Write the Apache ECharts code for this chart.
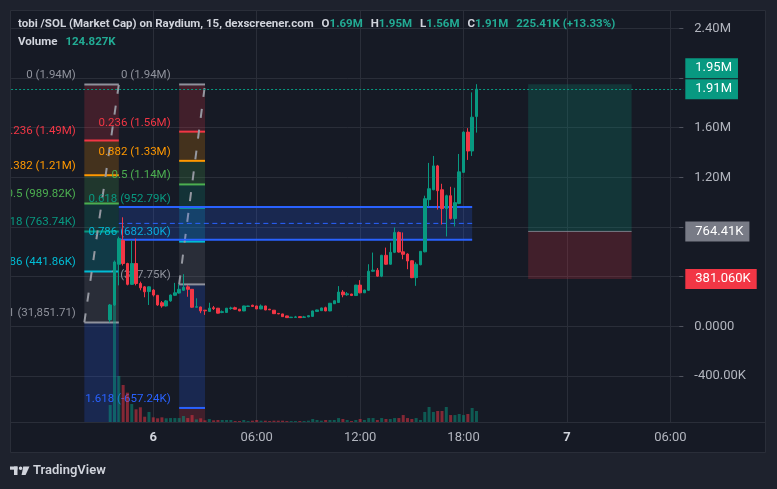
<!DOCTYPE html>
<html><head><meta charset="utf-8">
<script src="https://cdn.jsdelivr.net/npm/echarts@6/dist/echarts.min.js"></script>
<style>html,body{margin:0;padding:0;background:#1e222d;}#c{width:777px;height:489px;}</style>
</head><body><div id="c"></div>
<script>
// ---------------- data (market cap values in K) ----------------
const xStart = -33, xEnd = 123;              // visible 15-min slots, 0 = day 6 00:00
const xTickIndex = [0, 24, 48, 72, 96, 120];
const xTickLabels = ['6', '06:00', '12:00', '18:00', '7', '06:00'];
const xTickIsDay = [true, false, false, false, true, false];
const yLabelValues = [2400, 1600, 1200, 0, -400];
const firstBar = -10;
// [open, close, low, high]
const candles = [
 [52,172,32,180],[172,518,165,530],[500,706,330,722],[692,506,490,878],[506,338,330,512],
 [338,506,335,690],[506,345,330,706],[345,310,290,360],[318,278,234,325],[280,318,172,322],
 [292,252,240,300],[250,172,165,252],[190,164,150,204],[164,205,160,212],[205,252,198,256],
 [250,270,244,350],[268,298,264,340],[290,314,286,420],[318,298,238,332],[298,154,150,300],
 [154,158,152,226],[156,124,106,158],[130,125,92,132],[120,146,118,190],[150,142,132,164],
 [146,106,104,148],[112,118,106,128],[112,146,110,148],[144,148,134,158],[150,138,136,158],
 [138,124,122,140],[124,164,122,166],[160,164,158,166],[170,160,158,174],[164,140,138,166],
 [140,164,138,176],[164,132,130,166],[138,133,131,140],[130,102,100,131],[104,100,98,106],
 [100,78,76,101],[84,70,68,86],[70,74,68,76],[72,76,70,84],[78,70,68,80],
 [72,76,70,84],[76,86,74,88],[80,124,78,126],[120,132,118,134],[126,148,124,150],
 [150,124,122,158],[124,186,122,188],[182,206,180,208],[192,276,190,324],[276,254,234,292],
 [254,262,246,276],[260,248,244,262],[248,332,244,334],[332,270,266,372],[270,292,268,296],
 [290,444,286,500],[444,452,440,594],[452,404,400,470],[404,572,396,576],[572,500,496,634],
 [500,596,496,674],[596,756,590,796],[756,598,594,764],[600,580,540,756],[582,526,460,588],
 [528,392,388,532],[392,500,326,516],[496,604,492,606],[600,1028,596,1052],[1020,1108,964,1316],
 [1100,1292,1096,1372],[1292,1092,940,1300],[1100,948,820,1148],[948,1052,724,1060],[1052,868,860,1124],
 [868,996,804,1116],[990,1244,984,1388],[1240,1564,1236,1570],[1564,1412,1340,1596],[1412,1684,1372,1884],
 [1690,1910,1560,1950]
];
const volumes = [
 193,1420,522,420,333,204,144,167,60,114,
 53,42,53,42,45,45,45,68,45,79,
 30,42,19,34,19,23,23,23,23,11,
 11,23,11,15,23,15,15,11,15,15,
 15,11,11,11,11,11,15,34,23,15,
 23,23,23,45,34,23,11,23,34,23,
 45,45,23,45,34,34,45,45,79,45,
 34,45,23,114,170,114,125,125,170,79,
 79,91,79,91,159,125
];
const fibLevels = [0, 0.236, 0.382, 0.5, 0.618, 0.786, 1, 1.618, 2.618];
const fib1 = {x0: -16.05, x1: -7.9, p0: 1947.79, p1: 31.85171};
const fib1Labels = ['0 (1.94M)','0.236 (1.49M)','0.382 (1.21M)','0.5 (989.82K)','0.618 (763.74K)','0.786 (441.86K)','1 (31,851.71)','1.618 (-1.15M)','2.618 (-3.07M)'];
const fib2 = {x0: 5.9, x1: 12.15, p0: 1947.79, p1: 337.75};
const fib2Labels = ['0 (1.94M)','0.236 (1.56M)','0.382 (1.33M)','0.5 (1.14M)','0.618 (952.79K)','0.786 (682.30K)','1 (337.75K)','1.618 (-657.24K)','2.618 (-2.27M)'];
const rangeBox = {x0: -8.1, x1: 74.1, top: 960, bottom: 698};
const longPos = {x0: 87, x1: 111.1, target: 1950, entry: 764.41, stop: 381.06};
const priceTags = [
 {value: 1950, text: '1.95M', kind: 'up'},
 {value: 1910, text: '1.91M', kind: 'last'},
 {value: 764.41, text: '764.41K', kind: 'entry'},
 {value: 381.06, text: '381.060K', kind: 'down'}
];

// ---------------- build ----------------
const UP = '#089981', DOWN = '#f23645', GRID = '#2a2e39', TXT = '#b2b5be';
const FONT = 'Roboto, "Noto Sans", sans-serif';
const fibColors = ['#8f929c','#f23645','#ff9800','#4caf50','#089981','#00bcd4','#8f929c','#2962ff','#f23645'];
function rgba(hex, a){const n=parseInt(hex.slice(1),16);return `rgba(${n>>16},${(n>>8)&255},${n&255},${a})`;}

const cats = [];
for (let i = xStart; i <= xEnd; i++) cats.push(String(i));
const candleData = candles.map((c, j) => [firstBar + j - xStart, c[0], c[1], c[2], c[3]]);
const volData = volumes.map((v, j) => ({
  value: [firstBar + j - xStart, v],
  itemStyle: {color: candles[j][1] >= candles[j][0] ? rgba(UP, 0.5) : rgba(DOWN, 0.5)}
}));
const isTick = idx => xTickIndex.indexOf(idx + xStart) >= 0;

function fibSeries(f, labels){
  return {
    type: 'custom', xAxisIndex: 0, yAxisIndex: 0, z: 1, clip: true, silent: true,
    data: [[0, 0]],
    renderItem: (params, api) => {
      const xL = api.coord([f.x0 - xStart, 0])[0];
      const xR = api.coord([f.x1 - xStart, 0])[0];
      const yOf = lv => api.coord([0, f.p0 - lv * (f.p0 - f.p1)])[1];
      const ch = [];
      for (let k = 1; k < fibLevels.length; k++) {
        const ya = yOf(fibLevels[k-1]), yb = yOf(fibLevels[k]);
        ch.push({type:'rect', shape:{x:xL, y:Math.min(ya,yb), width:xR-xL, height:Math.abs(yb-ya)},
                 style:{fill: rgba(fibColors[k] === '#8f929c' ? '#787b86' : fibColors[k], 0.2)}});
      }
      for (let k = 0; k < fibLevels.length; k++) {
        const y = yOf(fibLevels[k]);
        ch.push({type:'line', shape:{x1:xL, y1:y, x2:xR, y2:y}, style:{stroke: fibColors[k], lineWidth: 2}});
        ch.push({type:'text', x: xL - 8.5, y: y - 3,
                 style:{text: labels[k], fill: fibColors[k], font: '11.5px ' + FONT, align:'right', verticalAlign:'bottom'}});
      }
      ch.push({type:'line', shape:{x1:xL, y1:yOf(1), x2:xR, y2:yOf(0)},
               style:{stroke:'#9598a1', lineWidth:2, lineDash:[9,12]}});
      return {type:'group', children: ch};
    }
  };
}

const rangeSeries = {
  type: 'custom', xAxisIndex: 0, yAxisIndex: 0, z: 1, clip: true, silent: true,
  data: [[0, 0]],
  renderItem: (params, api) => {
    const xL = api.coord([rangeBox.x0 - xStart, 0])[0];
    const xR = api.coord([rangeBox.x1 - xStart, 0])[0];
    const yT = api.coord([0, rangeBox.top])[1];
    const yB = api.coord([0, rangeBox.bottom])[1];
    const yM = api.coord([0, (rangeBox.top + rangeBox.bottom) / 2])[1];
    return {type:'group', children:[
      {type:'rect', shape:{x:xL, y:yT, width:xR-xL, height:yB-yT}, style:{fill:'rgba(41,98,255,0.2)'}},
      {type:'line', shape:{x1:xL, y1:yT, x2:xR, y2:yT}, style:{stroke:'#2962ff', lineWidth:2}},
      {type:'line', shape:{x1:xL, y1:yB, x2:xR, y2:yB}, style:{stroke:'#2962ff', lineWidth:2}},
      {type:'line', shape:{x1:xL, y1:yM, x2:xR, y2:yM}, style:{stroke:'#2962ff', lineWidth:1, lineDash:[5,3.5]}}
    ]};
  }
};

const longSeries = {
  type: 'custom', xAxisIndex: 0, yAxisIndex: 0, z: 1, clip: true, silent: true,
  data: [[0, 0]],
  renderItem: (params, api) => {
    const xL = api.coord([longPos.x0 - xStart, 0])[0];
    const xR = api.coord([longPos.x1 - xStart, 0])[0];
    const yT = api.coord([0, longPos.target])[1];
    const yE = api.coord([0, longPos.entry])[1];
    const yS = api.coord([0, longPos.stop])[1];
    return {type:'group', children:[
      {type:'rect', shape:{x:xL, y:yT, width:xR-xL, height:yE-yT}, style:{fill:rgba(UP,0.22)}},
      {type:'rect', shape:{x:xL, y:yE, width:xR-xL, height:yS-yE}, style:{fill:rgba(DOWN,0.2)}},
      {type:'line', shape:{x1:xL, y1:yE, x2:xR, y2:yE}, style:{stroke:'#787b86', lineWidth:1}}
    ]};
  }
};

const tagStyle = {up: UP, last: UP, entry: '#787b86', down: DOWN};
const markData = priceTags.map(t => ({
  yAxis: t.value,
  lineStyle: t.kind === 'last' ? {color: UP, type: [2, 2], width: 1} : {color: 'rgba(0,0,0,0)', width: 1},
  label: {
    show: true, position: 'end', distance: 2, formatter: t.text,
    backgroundColor: tagStyle[t.kind], color: '#ffffff', fontSize: 13, fontFamily: FONT,
    padding: [3, 6, 3, 10], lineHeight: 14, offset: [0, t.kind === 'up' ? -16 : 0]
  }
}));

function fmtY(v){
  if (yLabelValues.indexOf(v) < 0) return '';
  if (v === 0) return '0.0000';
  if (Math.abs(v) >= 1000) return (v/1000).toFixed(2) + 'M';
  return v.toFixed(2) + 'K';
}

const chart = echarts.init(document.getElementById('c'), null, {renderer: 'canvas'});
chart.setOption({
  animation: false,
  backgroundColor: '#1e222d',
  textStyle: {fontFamily: FONT},
  title: [
    {left: 18, top: 18, padding: 0,
     text: '{t|tobi /SOL (Market Cap) on Raydium, 15, dexscreener.com}{k|O}{v|1.69M}{k|H}{v|1.95M}{k|L}{v|1.56M}{k|C}{v|1.91M}{c|225.41K (+13.33%)}',
     textStyle: {rich: {
       t: {color: '#d1d4dc', fontSize: 11.5, fontFamily: FONT},
       k: {color: '#d1d4dc', fontSize: 11.5, fontFamily: FONT, padding: [0,0,0,8]},
       v: {color: '#22ab94', fontSize: 11.5, fontFamily: FONT},
       c: {color: '#22ab94', fontSize: 11.5, fontFamily: FONT, padding: [0,0,0,8]}
     }}},
    {left: 18, top: 36, padding: 0,
     text: '{t|Volume}{v|124.827K}',
     textStyle: {rich: {
       t: {color: '#d1d4dc', fontSize: 11.5, fontFamily: FONT},
       v: {color: '#22ab94', fontSize: 11.5, fontFamily: FONT, padding: [0,0,0,8]}
     }}}
  ],
  graphic: [
    {type: 'rect', z: -10, silent: true, shape: {x: 10.5, y: 10.5, width: 755, height: 442},
     style: {fill: '#161a25', stroke: GRID, lineWidth: 1}},
    {type: 'line', z: -9, silent: true, shape: {x1: 10.5, y1: 422.5, x2: 765.5, y2: 422.5},
     style: {stroke: GRID, lineWidth: 1}},
    {type: 'group', x: 10, y: 466, silent: true, children: [
      {type: 'rect', shape: {x: 0, y: 0.5, width: 7.5, height: 3.2}, style: {fill: '#d1d4dc'}},
      {type: 'rect', shape: {x: 4, y: 0.5, width: 3.5, height: 8.5}, style: {fill: '#d1d4dc'}},
      {type: 'circle', shape: {cx: 10.6, cy: 2.3, r: 1.8}, style: {fill: '#d1d4dc'}},
      {type: 'polygon', shape: {points: [[13.2,0.5],[19.5,0.5],[15.6,9],[11.6,9]]}, style: {fill: '#d1d4dc'}}
    ]},
    {type: 'text', x: 33, y: 471, silent: true,
     style: {text: 'TradingView', fill: '#d1d4dc', font: '600 13px ' + FONT, verticalAlign: 'middle'}}
  ],
  grid: [
    {left: 11.1, right: 93.7, top: 10, bottom: 67},
    {left: 11.1, right: 93.7, top: 28.3, bottom: 63.33},
    {left: 11.1, right: 93.7, top: 272, bottom: 67}
  ],
  xAxis: [
    {gridIndex: 0, type: 'category', data: cats, boundaryGap: false,
     axisLine: {show: false}, axisTick: {show: false}, axisLabel: {show: false},
     splitLine: {show: true, interval: (i) => isTick(i), lineStyle: {color: GRID, width: 1}}},
    {gridIndex: 1, type: 'category', data: cats, boundaryGap: false, show: false},
    {gridIndex: 2, type: 'category', data: cats, boundaryGap: false,
     axisLine: {show: false}, axisTick: {show: false}, splitLine: {show: false},
     axisLabel: {show: true, interval: (i) => isTick(i), margin: 9, color: TXT, fontSize: 13, fontFamily: FONT,
       formatter: (v) => { const k = xTickIndex.indexOf(Number(v)); if (k < 0) return '';
         return xTickIsDay[k] ? '{d|' + xTickLabels[k] + '}' : xTickLabels[k]; },
       rich: {d: {fontWeight: 'bold', color: '#d1d4dc', fontSize: 13, fontFamily: FONT}}}}
  ],
  yAxis: [
    {gridIndex: 0, type: 'value', min: -770.4, max: 2547.4, show: false},
    {gridIndex: 1, type: 'value', position: 'right', min: -800, max: 2400, interval: 400,
     axisLine: {show: false},
     axisTick: {show: true, inside: true, length: 4, lineStyle: {color: '#50535e'}},
     splitLine: {show: true, showMinLine: false, lineStyle: {color: GRID, width: 1}},
     axisLabel: {margin: 11, color: TXT, fontSize: 13, fontFamily: FONT, formatter: fmtY, showMinLabel: false}},
    {gridIndex: 2, type: 'value', min: 0, max: 1702.5, show: false}
  ],
  series: [
    fibSeries(fib1, fib1Labels),
    fibSeries(fib2, fib2Labels),
    rangeSeries,
    longSeries,
    {type: 'bar', xAxisIndex: 2, yAxisIndex: 2, z: 2, barWidth: 3, silent: true, data: volData},
    {type: 'candlestick', xAxisIndex: 0, yAxisIndex: 0, z: 3, barWidth: 3, silent: true,
     encode: {x: 0, y: [1, 2, 3, 4]},
     data: candleData,
     itemStyle: {color: UP, color0: DOWN, borderColor: UP, borderColor0: DOWN, borderWidth: 1},
     markLine: {symbol: ['none', 'none'], silent: true, animation: false, data: markData}}
  ]
});
</script></body></html>
